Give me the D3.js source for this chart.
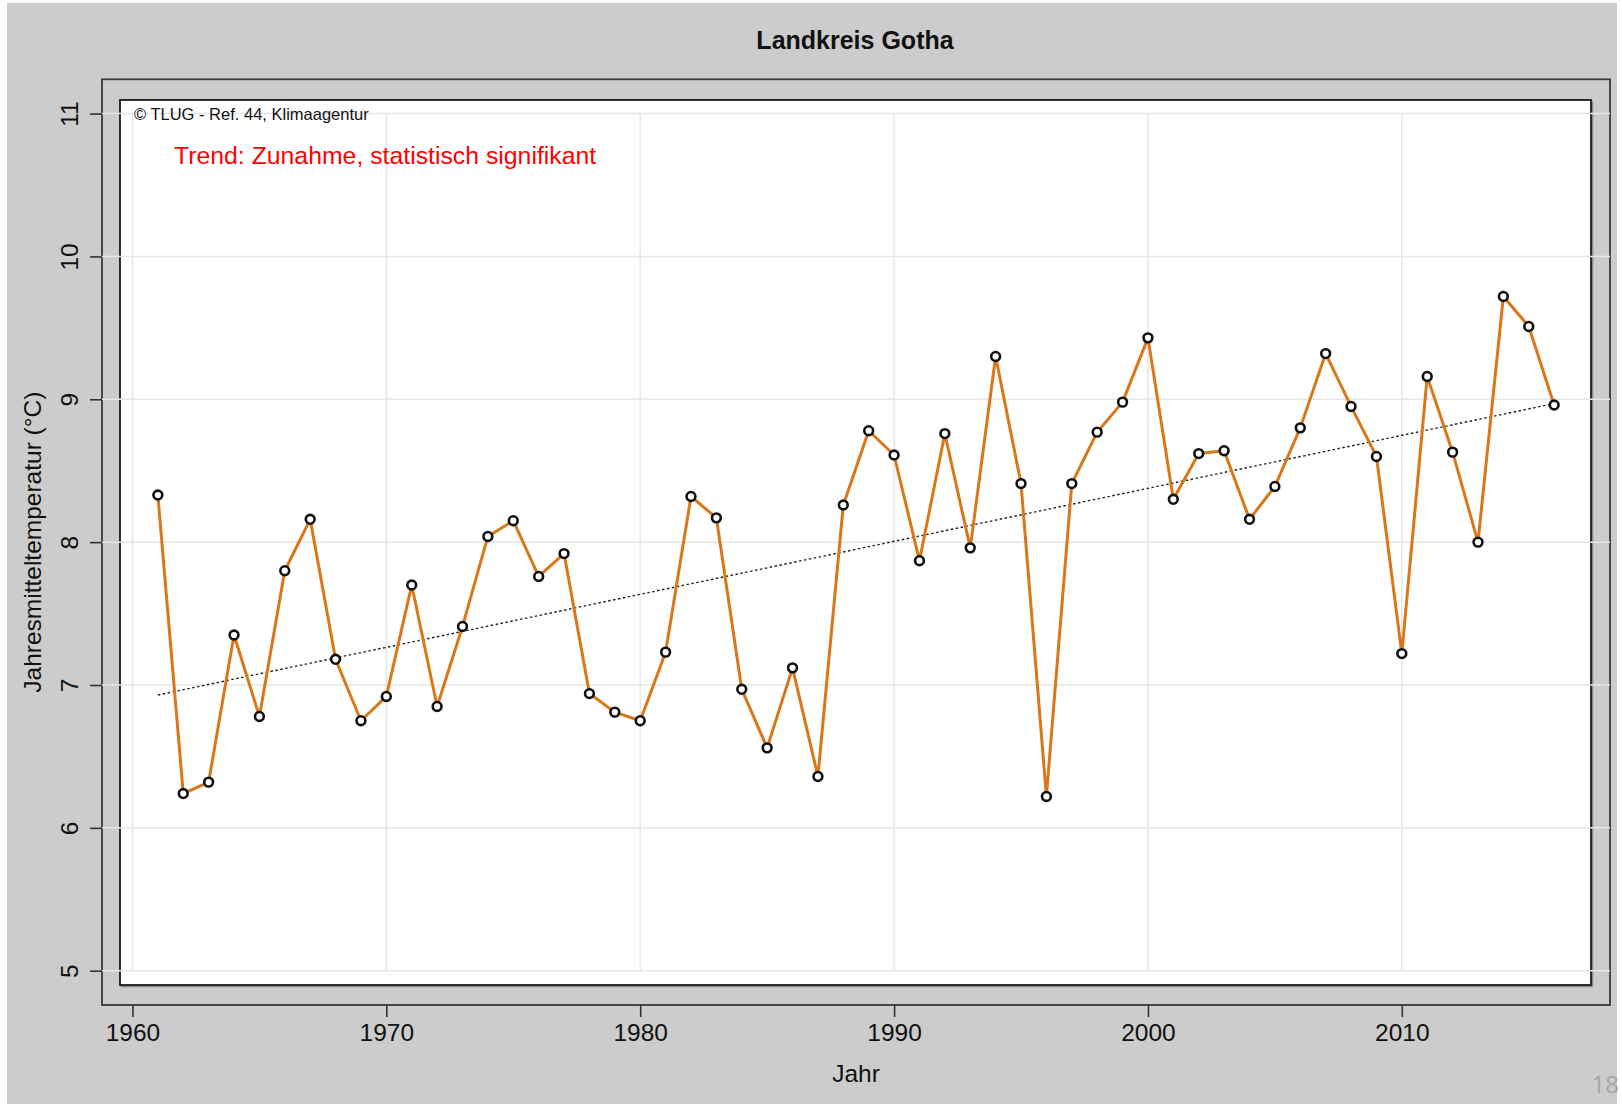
<!DOCTYPE html>
<html>
<head>
<meta charset="utf-8">
<script src="https://cdn.jsdelivr.net/npm/d3@7"></script>
<style>
  html, body { margin: 0; padding: 0; background: #ffffff; }
  svg { display: block; }
  text { font-family: "Liberation Sans", Arial, Helvetica, sans-serif; }
</style>
</head>
<body>
<svg id="chart" width="1622" height="1104"></svg>
<script>
// ---------------- data ----------------
const years = [1961,1962,1963,1964,1965,1966,1967,1968,1969,1970,
               1971,1972,1973,1974,1975,1976,1977,1978,1979,1980,
               1981,1982,1983,1984,1985,1986,1987,1988,1989,1990,
               1991,1992,1993,1994,1995,1996,1997,1998,1999,2000,
               2001,2002,2003,2004,2005,2006,2007,2008,2009,2010,
               2011,2012,2013,2014,2015,2016];
const temps = [8.33,6.24,6.32,7.35,6.78,7.80,8.16,7.18,6.75,6.92,
               7.70,6.85,7.41,8.04,8.15,7.76,7.92,6.94,6.81,6.75,
               7.23,8.32,8.17,6.97,6.56,7.12,6.36,8.26,8.78,8.61,
               7.87,8.76,7.96,9.30,8.41,6.22,8.41,8.77,8.98,9.43,
               8.30,8.62,8.64,8.16,8.39,8.80,9.32,8.95,8.60,7.22,
               9.16,8.63,8.00,9.72,9.51,8.96];
const trendYears = [1961, 2016];
const trendValues = [6.93, 8.97];
const xTicks = [1960,1970,1980,1990,2000,2010];
const yTicks = [5,6,7,8,9,10,11];
const titleText = "Landkreis Gotha";
const xLabel = "Jahr";
const yLabel = "Jahresmitteltemperatur (°C)";
const sourceText = "© TLUG - Ref. 44, Klimaagentur";
const trendText = "Trend: Zunahme, statistisch signifikant";
const pageNumber = "18";

// ---------------- layout ----------------
const W = 1622, H = 1104;
const plot = { left: 102, right: 1610, top: 79.3, bottom: 1005 };
const inner = { left: 120, right: 1591, top: 100, bottom: 985 };

const svg = d3.select("#chart");

// background
svg.append("rect").attr("x", 7).attr("y", 3).attr("width", 1610).attr("height", H - 3)
  .attr("fill", "#cccccc");

// scales (R-style 4% padding)
const xMin = d3.min(years), xMax = d3.max(years);
const xPad = (xMax - xMin) * 0.04;
const x = d3.scaleLinear().domain([xMin - xPad, xMax + xPad]).range([plot.left, plot.right]);
const yPad = (11 - 5) * 0.04;
const y = d3.scaleLinear().domain([5 - yPad, 11 + yPad]).range([plot.bottom, plot.top]);

// outer plot box
svg.append("rect")
  .attr("x", plot.left).attr("y", plot.top)
  .attr("width", plot.right - plot.left).attr("height", plot.bottom - plot.top)
  .attr("fill", "none").attr("stroke", "#3a3a3a").attr("stroke-width", 1.8);

// inner white panel with slight shadow
svg.append("rect")
  .attr("x", inner.left + 1.5).attr("y", inner.top + 1.5)
  .attr("width", inner.right - inner.left).attr("height", inner.bottom - inner.top)
  .attr("fill", "none").attr("stroke", "#8a8a8a").attr("stroke-width", 1.6);
svg.append("rect")
  .attr("x", inner.left).attr("y", inner.top)
  .attr("width", inner.right - inner.left).attr("height", inner.bottom - inner.top)
  .attr("fill", "#ffffff").attr("stroke", "#1a1a1a").attr("stroke-width", 1.8);

// grid lines
const grid = svg.append("g").attr("stroke", "#e6e6e6").attr("stroke-width", 1.5);
grid.selectAll("line.h").data(yTicks).join("line")
  .attr("class", "h")
  .attr("x1", plot.left).attr("x2", plot.right)
  .attr("y1", d => y(d)).attr("y2", d => y(d));
grid.selectAll("line.v").data(xTicks).join("line")
  .attr("class", "v")
  .attr("x1", d => x(d)).attr("x2", d => x(d))
  .attr("y1", y(d3.max(yTicks))).attr("y2", y(d3.min(yTicks)));

// axes
const xAxis = svg.append("g").attr("transform", `translate(0,${plot.bottom})`)
  .call(d3.axisBottom(x).tickValues(xTicks).tickFormat(d3.format("d")).tickSize(12).tickPadding(9));
const yAxis = svg.append("g").attr("transform", `translate(${plot.left},0)`)
  .call(d3.axisLeft(y).tickValues(yTicks).tickFormat(d3.format("d")).tickSize(12).tickPadding(12));
[xAxis, yAxis].forEach(a => {
  a.select(".domain").remove();
  a.selectAll(".tick line").attr("stroke", "#333").attr("stroke-width", 1.6);
  a.selectAll(".tick text").attr("fill", "#111").style("font-size", "24.5px")
    .style("font-family", "'Liberation Sans', Arial, sans-serif");
});
xAxis.selectAll(".tick text").attr("dy", null).attr("y", 0)
  .attr("transform", "translate(0,36)");
yAxis.selectAll(".tick text")
  .attr("x", null).attr("dy", null)
  .attr("text-anchor", "middle")
  .attr("transform", "translate(-24,0) rotate(-90)");

// trend line (dotted)
const trendData = trendYears.map((yr, i) => ({ yr, v: trendValues[i] }));
svg.append("path")
  .datum(trendData)
  .attr("d", d3.line().x(d => x(d.yr)).y(d => y(d.v)))
  .attr("fill", "none").attr("stroke", "#222").attr("stroke-width", 1.4)
  .attr("stroke-dasharray", "2.5,2.5");

// data line
const series = years.map((yr, i) => ({ yr, v: temps[i] }));
svg.append("path")
  .datum(series)
  .attr("d", d3.line().x(d => x(d.yr)).y(d => y(d.v)))
  .attr("fill", "none").attr("stroke", "#d9771a").attr("stroke-width", 3)
  .attr("stroke-linejoin", "round");

// points
svg.append("g").selectAll("circle").data(series).join("circle")
  .attr("cx", d => x(d.yr)).attr("cy", d => y(d.v)).attr("r", 4.4)
  .attr("fill", "#ffffff").attr("stroke", "#111").attr("stroke-width", 2.6);

// texts
svg.append("text").attr("x", 855).attr("y", 49)
  .attr("text-anchor", "middle").style("font-size", "25px").style("font-weight", "bold")
  .attr("fill", "#111").text(titleText);

svg.append("text").attr("x", (plot.left + plot.right) / 2).attr("y", 1082)
  .attr("text-anchor", "middle").style("font-size", "24.5px").attr("fill", "#111").text(xLabel);

svg.append("text")
  .attr("transform", `translate(41,${(plot.top + plot.bottom) / 2}) rotate(-90)`)
  .attr("text-anchor", "middle").style("font-size", "24.5px").attr("fill", "#111").text(yLabel);

svg.append("text").attr("x", 134).attr("y", 120)
  .style("font-size", "16.5px").attr("fill", "#111").text(sourceText);

svg.append("text").attr("x", 174).attr("y", 164)
  .style("font-size", "24.8px").attr("fill", "#ff0000").text(trendText);

svg.append("text").attr("x", 1619).attr("y", 1093).attr("text-anchor", "end")
  .style("font-size", "24px").style("font-family", "'Open Sans', 'Liberation Sans', sans-serif")
  .attr("fill", "#a6a6a6").text(pageNumber);
</script>
</body>
</html>
